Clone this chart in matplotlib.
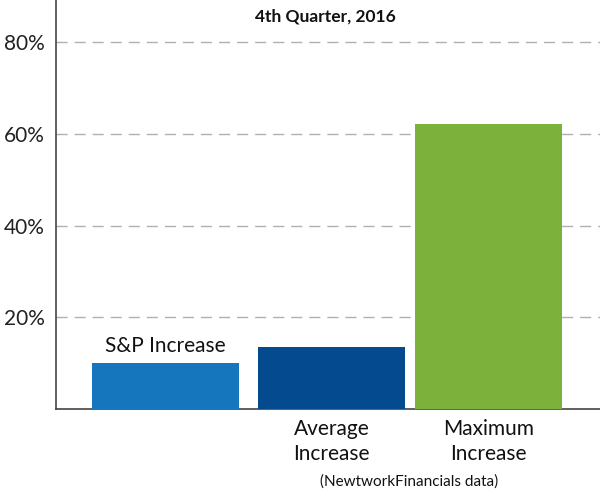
import matplotlib.pyplot as plt

plt.rcParams['font.family'] = ['Lato', 'DejaVu Sans']

# data
categories = ['S&P Increase', 'Average\nIncrease', 'Maximum\nIncrease']
values = [10.0, 13.5, 62.2]
colors = ['#1576be', '#034b8e', '#7cb23c']
yticks = [20, 40, 60, 80]
ytick_labels = ['20%', '40%', '60%', '80%']

fig = plt.figure(figsize=(6, 4.9), dpi=100)
ax = fig.add_axes([56 / 600, 81 / 490, 544 / 600, 409 / 490])

x = [0, 1.0, 1.943]
ax.bar(x, values, width=0.883, color=colors, zorder=3)

ax.set_xlim(-0.655, 2.613)
ax.set_ylim(0, 89.2)
ax.set_yticks(yticks)
ax.set_yticklabels(ytick_labels, fontsize=15, color='#222222')
ax.set_xticks([])
ax.tick_params(axis='y', length=0, pad=8)
ax.yaxis.grid(True, linestyle=(0, (8, 5)), color='#b0b0b0', linewidth=1, zorder=0)

for side in ['top', 'right']:
    ax.spines[side].set_visible(False)
for side in ['left', 'bottom']:
    ax.spines[side].set_color('#444444')
    ax.spines[side].set_linewidth(1.2)

# labels
ax.text(x[0], values[0] + 2.4, categories[0], ha='center', va='baseline', fontsize=15, color='#111111')
ax.text(x[1], -2.2, categories[1], ha='center', va='top', fontsize=15, color='#111111', linespacing=1.32)
ax.text(x[2], -2.2, categories[2], ha='center', va='top', fontsize=15, color='#111111', linespacing=1.32)

fig.text(325 / 600, 1 - 17 / 490, '4th Quarter, 2016', ha='center', va='center',
         fontsize=12.5, fontweight='bold', color='#111111')
fig.text(409 / 600, 1 - 482 / 490, '(NewtworkFinancials data)', ha='center', va='center',
         fontsize=11, color='#111111')

fig.savefig('out.png', dpi=100)
